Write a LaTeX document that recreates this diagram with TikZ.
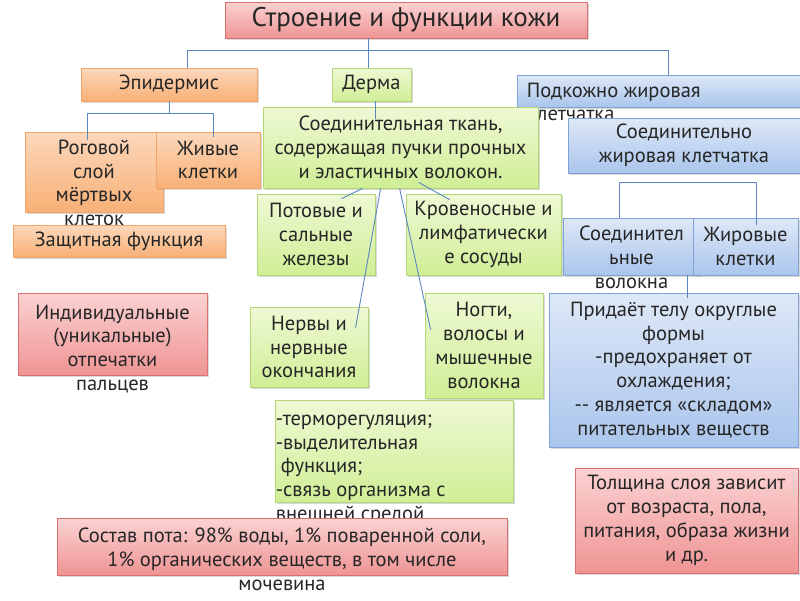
\documentclass[tikz,border=0pt]{standalone}
\usepackage{fontspec}
\setmainfont{PT Sans}
\usetikzlibrary{calc,shadows}
\definecolor{connc}{RGB}{90,135,195}
\definecolor{orT}{RGB}{252,216,188}
\definecolor{orB}{RGB}{248,176,118}
\definecolor{orD}{RGB}{244,165,105}
\definecolor{grT}{RGB}{238,249,212}
\definecolor{grB}{RGB}{208,238,150}
\definecolor{grD}{RGB}{178,214,120}
\definecolor{blT}{RGB}{222,232,247}
\definecolor{blB}{RGB}{170,197,236}
\definecolor{blD}{RGB}{125,163,217}
\definecolor{rdT}{RGB}{251,210,210}
\definecolor{rdB}{RGB}{239,148,148}
\definecolor{rdD}{RGB}{218,112,110}
\tikzset{
  box/.style={draw, line width=0.8pt, inner sep=0pt, align=center,
    font=\fontsize{20.5}{23.8}\selectfont, text=black!85,
    drop shadow={shadow xshift=1.5pt,shadow yshift=-1.5pt,opacity=0.3}},
  orbox/.style={box, draw=orD, top color=orT, bottom color=orB},
  grbox/.style={box, draw=grD, top color=grT, bottom color=grB},
  blbox/.style={box, draw=blD, top color=blT, bottom color=blB},
  rdbox/.style={box, draw=rdD, top color=rdT, bottom color=rdB},
  txt/.style={font=\fontsize{20.5}{23.8}\selectfont, align=center, inner sep=0pt,
    anchor=north, text=black!85, yshift=-8pt},
  ltxt/.style={txt, align=left, anchor=north west},
  conn/.style={draw=connc, line width=0.9pt},
}
\newcommand\mybox[7]{\node[#1, minimum width={(#5-#3)*1pt}, minimum height={(#6-#4)*1pt}] (#2) at ({(#3+#5)/2},{(#4+#6)/2}) {#7};}
\begin{document}
\begin{tikzpicture}[x=1pt,y=-1pt]
\useasboundingbox (0,0) rectangle (800,600);
% level 0/1
\mybox{rdbox,font=\fontsize{27}{30}\selectfont}{title}{225}{2}{587}{38}{Строение и функции кожи}
\mybox{orbox}{epi}{81}{68}{257}{101}{Эпидермис}
\mybox{grbox}{derma}{332}{68}{411}{101}{Дерма}
\mybox{blbox}{sub}{517}{75}{800}{107}{}
\node[ltxt, xshift=10pt] (subt) at (sub.north west) {Подкожно жировая\\клетчатка};
\coordinate (ja) at (187,50);
\coordinate (jb) at (368,50);
\coordinate (jc) at (668,50);
\draw[conn] (ja |- epi.north) -- (ja) -- (jc) -- (jc |- sub.north);
\draw[conn] (jb |- title.south) -- (jb |- derma.north);
% epidermis
\mybox{orbox}{rog}{25}{132}{163}{212}{}
\node[txt] (rogt) at (rog.north) {Роговой\\слой\\мёртвых\\клеток};
\mybox{orbox}{liv}{156}{132}{260}{188}{Живые\\клетки}
\coordinate (ea) at (87,113);
\coordinate (eb) at (213,113);
\draw[conn] (epi.south) -- (epi.south |- ea);
\draw[conn] ($(ea |- rog.north)+(0,8)$) -- (ea) -- (eb) -- ($(eb |- liv.north)+(0,5)$);
\mybox{orbox}{zash}{13}{225}{225}{257}{Защитная функция}
% derma
\mybox{grbox}{sv}{263}{107}{538}{188}{Соединительная ткань,\\содержащая пучки прочных\\и эластичных волокон.}
\draw[conn] (derma.south -| 375,0) -- ($(derma.south -| 375,0)+(0,18)$);
% blue
\mybox{blbox}{sj}{568}{118}{800}{173}{Соединительно\\жировая клетчатка}
\mybox{blbox}{sf}{563}{218}{700}{275}{}
\node[txt] (sft) at (sf.north) {Соединител\\ьные\\волокна};
\mybox{blbox}{zk}{693}{218}{798}{275}{Жировые\\клетки}
\coordinate (ba) at (619,182);
\coordinate (bb) at (756,182);
\draw[conn] (ba |- sf.north) -- (ba) -- (bb) -- ($(bb |- zk.north)+(0,7)$);
% derma children
\mybox{grbox}{nerv}{250}{307}{368}{387}{Нервы и\\нервные\\окончания}
\mybox{grbox}{pot}{257}{194}{375}{275}{Потовые и\\сальные\\железы}
\mybox{grbox}{krov}{406}{194}{561}{275}{Кровеносные и\\лимфатически\\е сосуды}
\mybox{grbox}{nogti}{425}{293}{543}{398}{Ногти,\\волосы и\\мышечные\\волокна}
\draw[conn] ($(sv.south west)+(100,0)$) -- ($(pot.north west)+(85,5)$);
\draw[conn] ($(sv.south west)+(118,0)$) -- ($(nerv.north west)+(106,21)$);
\draw[conn] ($(sv.south west)+(137,0)$) -- ($(nogti.north west)+(6,37)$);
\draw[conn] ($(sv.south west)+(156,-6)$) -- ($(krov.north west)+(44,6)$);
% blue lower
\mybox{blbox}{prid}{549}{293}{798}{447}{Придаёт телу округлые\\формы\\-предохраняет от\\охлаждения;\\{-}{-} является «складом»\\питательных веществ}
\draw[conn] (sf.south -| 687,0) -- ($(prid.north -| 687,0)+(0,5)$);
% red
\mybox{rdbox}{ind}{18}{293}{207}{375}{}
\node[txt, yshift=-4pt] (indt) at (ind.north) {Индивидуальные\\(уникальные)\\отпечатки\\пальцев};
\mybox{grbox}{term}{275}{400}{513}{502}{}
\node[ltxt, xshift=1pt, yshift=-7pt] (termt) at (term.north west) {-терморегуляция;\\-выделительная\\\hspace*{5pt}функция;\\-связь организма с\\внешней средой.};
\mybox{rdbox}{sost}{57}{518}{507}{575}{}
\node[txt, yshift=-2pt] (sostt) at (sost.north) {Состав пота: 98\% воды, 1\% поваренной соли,\\1\% органических веществ, в том числе\\мочевина};
\mybox{rdbox}{tol}{575}{468}{798}{573}{Толщина слоя зависит\\от возраста, пола,\\питания, образа жизни\\и др.}
\end{tikzpicture}
\end{document}
